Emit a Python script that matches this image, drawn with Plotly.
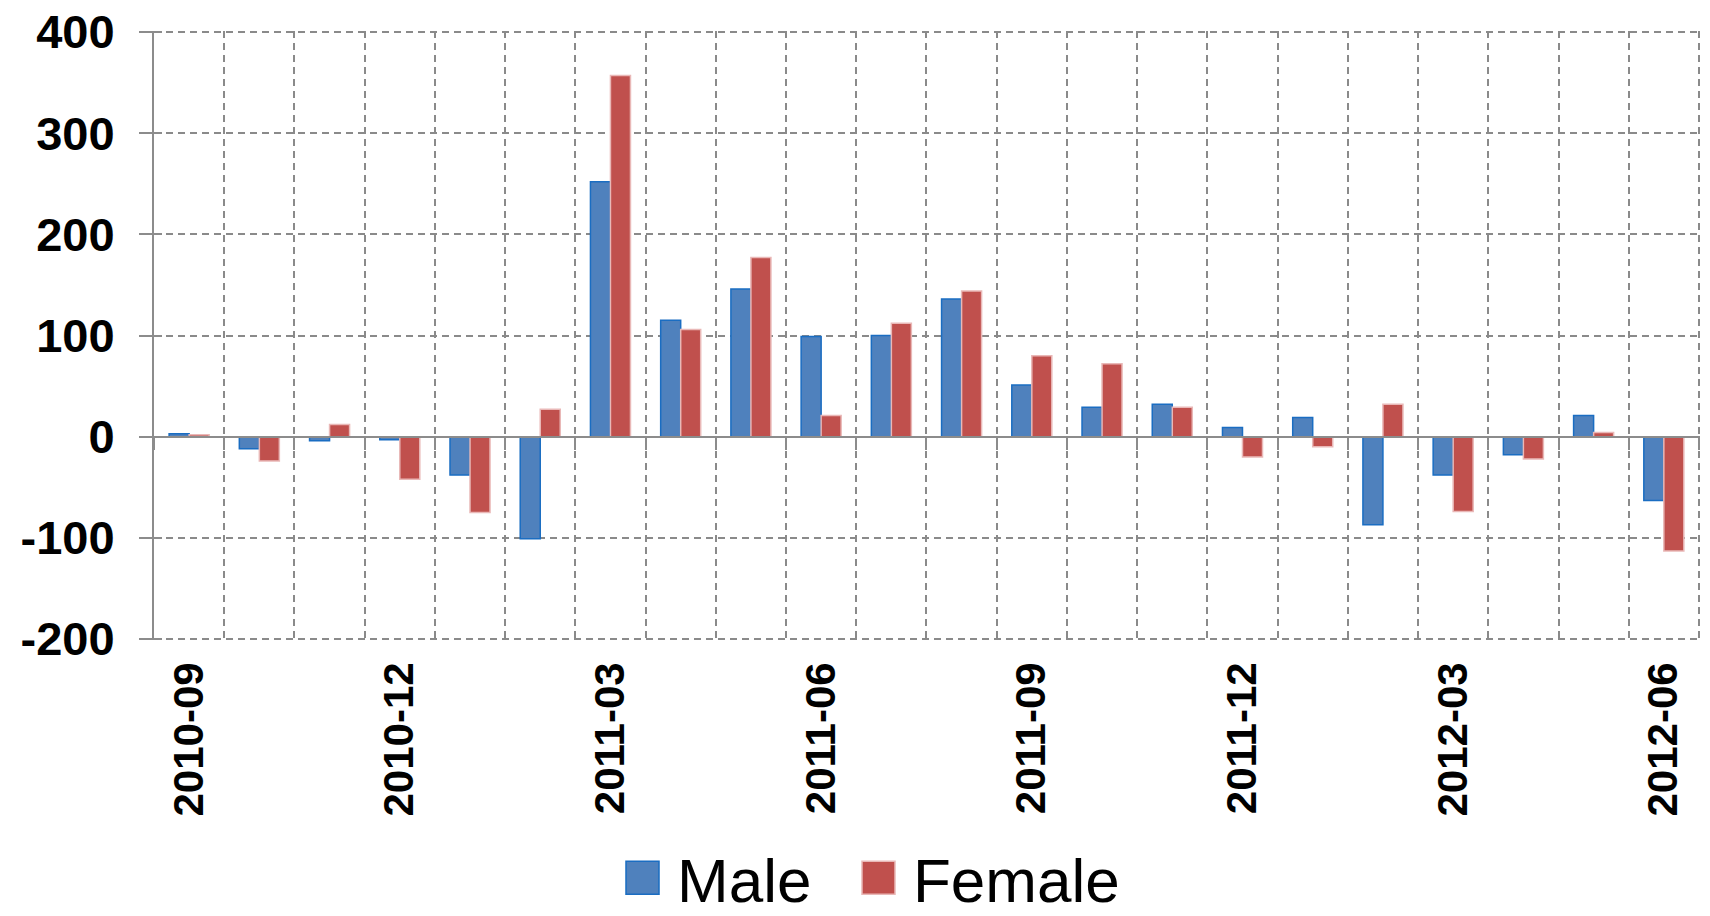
import plotly.graph_objects as go
import numpy as np

months = ["2010-09", "2010-10", "2010-11", "2010-12", "2011-01", "2011-02",
          "2011-03", "2011-04", "2011-05", "2011-06", "2011-07", "2011-08",
          "2011-09", "2011-10", "2011-11", "2011-12", "2012-01", "2012-02",
          "2012-03", "2012-04", "2012-05", "2012-06"]
male = [3, -12, -4, -3, -38, -101, 252, 115, 146, 99, 100, 136,
        51, 29, 32, 9, 19, -87, -38, -18, 21, -63]
female = [2, -24, 12, -42, -75, 27, 357, 106, 177, 21, 112, 144,
          80, 72, 29, -20, -10, 32, -74, -22, 4, -113]
label_months = months[::3]
y_ticks = [-200, -100, 0, 100, 200, 300, 400]
y_ticktext = ["-200", "-100", "0", "100", "200", "300", "400"]

GRID = "#8a8a8a"
AXIS = "#8c8c8c"
FONT = "Liberation Sans, Arial, sans-serif"

W, H = 1710, 916
ML, MR, MT, MB = 154, 10, 31, 276
PW, PH = W - ML - MR, H - MT - MB

n = len(months)
xr = [-0.5, n - 0.485]
yr = [-201, 401]
boundaries = list(np.arange(n + 1) - 0.5)

fig = go.Figure()
fig.add_trace(go.Bar(name="Male", x=months, y=male, legend="legend",
                     marker=dict(color="#4F81BD", line=dict(color="#1A6DC2", width=1.5))))
fig.add_trace(go.Bar(name="Female", x=months, y=female, legend="legend2",
                     marker=dict(color="#C0504D", line=dict(color="#E9B8B7", width=1.5))))
# invisible helper trace so the overlay axes (boundary grid / crossing ticks) are drawn
fig.add_trace(go.Scatter(x=[boundaries[0], boundaries[-1]], y=[0, 0], xaxis="x2", yaxis="y2",
                         mode="lines", line=dict(width=0, color="rgba(0,0,0,0)"),
                         hoverinfo="skip", showlegend=False))

legend_common = dict(orientation="h", yanchor="bottom", y=-(904 - (H - MB)) / PH,
                     xanchor="left", itemwidth=59,
                     font=dict(size=62, family=FONT, color="black"),
                     bgcolor="rgba(0,0,0,0)")

fig.update_layout(
    width=W, height=H,
    margin=dict(l=ML, r=MR, t=MT, b=MB),
    paper_bgcolor="white", plot_bgcolor="white",
    barmode="group", bargap=0.43, bargroupgap=0,
    font=dict(family=FONT, color="black"),
    showlegend=True,
    legend=dict(x=(608 - ML) / PW, **legend_common),
    legend2=dict(x=(844 - ML) / PW, **legend_common),
    xaxis=dict(type="category", categoryorder="array", categoryarray=months,
               range=xr, automargin=False,
               tickmode="array", tickvals=label_months, ticktext=label_months,
               tickangle=-90, showgrid=False, ticks="", showline=False, zeroline=False,
               tickfont=dict(size=42, family=FONT, weight="bold", color="black"),
               ticklabelstandoff=13),
    xaxis2=dict(overlaying="x", type="linear", range=xr, automargin=False,
                anchor="free", position=(0 - yr[0]) / (yr[1] - yr[0]),
                tickmode="array", tickvals=boundaries, showticklabels=False,
                ticks="outside", ticklen=12, tickwidth=2, tickcolor=AXIS,
                showline=True, linecolor=AXIS, linewidth=2,
                showgrid=True, gridcolor=GRID, gridwidth=2, griddash="7px,5px",
                zeroline=False),
    yaxis=dict(range=yr, automargin=False, tickmode="array", tickvals=y_ticks, ticktext=y_ticktext,
               showgrid=True, gridcolor=GRID, gridwidth=2, griddash="7px,5px",
               zeroline=False, showline=True, linecolor=AXIS, linewidth=2,
               ticks="outside", ticklen=13, tickwidth=2, tickcolor=AXIS,
               tickfont=dict(size=47, family=FONT, weight="bold", color="black"),
               ticklabelstandoff=15),
    yaxis2=dict(overlaying="y", range=yr, automargin=False, tickmode="array", tickvals=y_ticks,
                showticklabels=False, ticks="inside", ticklen=8, tickwidth=2,
                tickcolor=AXIS, showgrid=False, zeroline=False, showline=False),
)

post = """
document.body.style.margin='0';
function styleLegend(){
  document.querySelectorAll('.legendpoints path').forEach(function(p){
    var t = p.getAttribute('transform') || '';
    if (t.indexOf('scale') < 0) {
      p.setAttribute('transform', t + ' scale(2.75)');
      p.style.strokeWidth = '0.55px';
    }
  });
  document.querySelectorAll('g.legend, g.legend2').forEach(function(g){
    var t = g.getAttribute('transform') || '';
    if (t.indexOf('translate(0,21)') < 0) {
      g.setAttribute('transform', t + ' translate(0,21)');
    }
  });
}
styleLegend();
var gdEl = document.getElementById('{plot_id}');
if (gdEl && gdEl.on) { gdEl.on('plotly_afterplot', styleLegend); }
setTimeout(styleLegend, 100);
"""

fig.write_html("out.html", post_script=post, config=dict(displayModeBar=False))
